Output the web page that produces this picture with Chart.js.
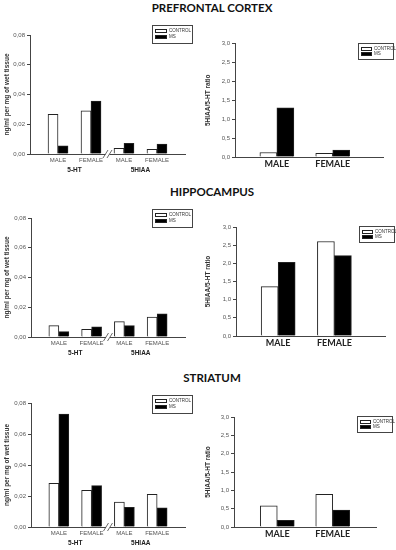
<!DOCTYPE html>
<html>
<head>
<meta charset="utf-8">
<script src="https://cdn.jsdelivr.net/npm/chart.js@4/dist/chart.umd.min.js"></script>
<style>
  body { margin: 0; background: #fff; width: 396px; height: 550px; position: relative; overflow: hidden; }
  canvas { position: absolute; }
  .title { position: absolute; left: 112px; width: 200px; text-align: center; font-family: Lato, "Open Sans", sans-serif; font-weight: bold; font-size: 11.5px; color: #111; }
</style>
</head>
<body>
<div class="title" style="top:1px">PREFRONTAL CORTEX</div>
<div class="title" style="top:185px">HIPPOCAMPUS</div>
<div class="title" style="top:371px">STRIATUM</div>
<canvas id="pfc_ng"></canvas>
<canvas id="pfc_ratio"></canvas>
<canvas id="hip_ng"></canvas>
<canvas id="hip_ratio"></canvas>
<canvas id="str_ng"></canvas>
<canvas id="str_ratio"></canvas>
<script>
// data
const sexes = ['MALE', 'FEMALE'];
const groups = ['5-HT', '5HIAA'];
const seriesNames = ['CONTROL', 'MS'];
const ngMax = 0.08, ngStep = 0.02;
const ratioMax = 3.0, ratioStep = 0.5;
const ngTitle = 'ng/ml per mg of wet tissue';
const ratioTitle = '5HIAA/5-HT ratio';

// [5-HT male, 5-HT female, 5HIAA male, 5HIAA female]
const pfcNgControl = [0.0267, 0.0291, 0.0038, 0.0032];
const pfcNgMS      = [0.0055, 0.0355, 0.0072, 0.0067];
const hipNgControl = [0.0076, 0.0052, 0.0103, 0.0134];
const hipNgMS      = [0.0036, 0.0069, 0.0076, 0.0155];
const strNgControl = [0.0282, 0.0237, 0.0161, 0.0211];
const strNgMS      = [0.0729, 0.0267, 0.0127, 0.0123];
// [male, female]
const pfcRatioControl = [0.12, 0.10];
const pfcRatioMS      = [1.30, 0.185];
const hipRatioControl = [1.36, 2.60];
const hipRatioMS      = [2.03, 2.21];
const strRatioControl = [0.58, 0.89];
const strRatioMS      = [0.18, 0.46];

const ngLabels = groups.flatMap(() => sexes);

var axisColor = '#444';
var tickFont = { family: 'Liberation Sans, Arial, sans-serif', size: 6 };

function comma(v, digits) { return v.toFixed(digits).replace('.', ','); }

// legend box drawn inside the canvas
const boxLegend = {
  id: 'boxLegend',
  afterDraw(chart, args, o) {
    const ctx = chart.ctx;
    ctx.save();
    ctx.strokeStyle = '#444';
    ctx.lineWidth = 1;
    ctx.strokeRect(o.x + 0.5, o.y + 0.5, o.w, o.h);
    chart.data.datasets.forEach((ds, i) => {
      const sy = o.y + 4 + i * o.gap;
      ctx.fillStyle = ds.backgroundColor;
      ctx.fillRect(o.x + 3.5, sy + 0.5, o.sw, 3);
      ctx.strokeStyle = '#222';
      ctx.strokeRect(o.x + 3.5, sy + 0.5, o.sw, 3);
      ctx.fillStyle = '#333';
      ctx.font = '4.5px Liberation Sans, Arial, sans-serif';
      ctx.textBaseline = 'middle';
      ctx.fillText(ds.label, o.x + o.sw + 6, sy + 2);
    });
    ctx.restore();
  }
};

// group names under the sex labels and the // break on the x axis
const groupAxis = {
  id: 'groupAxis',
  afterDraw(chart, args, o) {
    if (!o.groups) return;
    const ctx = chart.ctx, x = chart.scales.x, a = chart.chartArea;
    ctx.save();
    ctx.fillStyle = '#222';
    ctx.font = 'bold 6.5px Liberation Sans, Arial, sans-serif';
    ctx.textAlign = 'center';
    ctx.textBaseline = 'middle';
    o.groups.forEach((g, i) => {
      ctx.fillText(g, x.getPixelForValue(i * 2 + 0.5), a.bottom + 16);
    });
    const bx = x.getPixelForValue(1.5);
    ctx.fillStyle = '#fff';
    ctx.fillRect(bx - 2, a.bottom - 2, 4, 4);
    ctx.strokeStyle = axisColor;
    ctx.lineWidth = 0.8;
    [-2, 2].forEach(d => {
      ctx.beginPath();
      ctx.moveTo(bx + d - 2.5, a.bottom + 4);
      ctx.lineTo(bx + d + 2.5, a.bottom - 4);
      ctx.stroke();
    });
    ctx.restore();
  }
};

function makeChart(id, box, area, labels, control, ms, kind, xr, legend) {
  const cv = document.getElementById(id);
  cv.width = box.w; cv.height = box.h;
  cv.style.left = box.x + 'px'; cv.style.top = box.y + 'px';
  const isNg = kind === 'ng';
  const thick = isNg ? 10 : 17;
  const mk = (name, vals, fill) => ({
    label: name,
    data: vals.map((v, i) => ({ x: i, y: v })),
    backgroundColor: fill,
    borderColor: '#222',
    borderWidth: 1,
    barThickness: thick
  });
  return new Chart(cv, {
    type: 'bar',
    data: { datasets: [mk(seriesNames[0], control, '#ffffff'), mk(seriesNames[1], ms, '#000000')] },
    plugins: [boxLegend, groupAxis],
    options: {
      responsive: false,
      animation: false,
      devicePixelRatio: 1,
      layout: { padding: { left: 0, top: area.t - box.y, right: box.x + box.w - area.r, bottom: 0 } },
      plugins: {
        legend: { display: false },
        tooltip: { enabled: false },
        boxLegend: { x: legend.x - box.x, y: legend.y - box.y, w: legend.w, h: legend.h, sw: legend.sw, gap: legend.gap },
        groupAxis: { groups: isNg ? groups : null }
      },
      scales: {
        x: {
          type: 'linear',
          offset: false,
          min: xr[0], max: xr[1],
          afterBuildTicks: s => { s.ticks = labels.map((l, i) => ({ value: i })); },
          afterFit: s => { s.height = box.y + box.h - area.b; },
          ticks: {
            callback: v => labels[v],
            color: isNg ? '#555' : '#222',
            font: isNg ? tickFont : { family: 'Lato, sans-serif', size: 9, weight: 'bold' },
            padding: isNg ? 3 : 2,
            maxRotation: 0, autoSkip: false
          },
          grid: { display: false, drawTicks: false, offset: false },
          border: { display: true, color: axisColor, width: 1 }
        },
        y: {
          min: 0,
          max: isNg ? ngMax : ratioMax,
          afterFit: s => { s.width = area.l - box.x; },
          ticks: {
            stepSize: isNg ? ngStep : ratioStep,
            callback: v => comma(v, isNg ? 2 : 1),
            color: '#555',
            font: tickFont,
            padding: 2
          },
          grid: { drawOnChartArea: false, drawTicks: true, tickLength: 3, color: axisColor },
          border: { display: true, color: axisColor, width: 1 },
          title: {
            display: true,
            text: isNg ? ngTitle : ratioTitle,
            color: '#333',
            font: { family: 'Liberation Sans, Arial, sans-serif', size: isNg ? 6.5 : 6.5, weight: 'bold' },
            padding: { top: isNg ? 3 : 4, bottom: 0 }
          }
        }
      }
    }
  });
}

var ngLegend = { w: 40, h: 18, sw: 11, gap: 6 };
var ratioLegend = { w: 35, h: 16, sw: 10, gap: 5 };

makeChart('pfc_ng', { x: 0, y: 20, w: 200, h: 160 }, { l: 30, t: 35, r: 185, b: 154 },
  ngLabels, pfcNgControl, pfcNgMS, 'ng', [-0.85, 3.85], Object.assign({ x: 152, y: 25 }, ngLegend));
makeChart('pfc_ratio', { x: 200, y: 20, w: 196, h: 160 }, { l: 235, t: 43.5, r: 383, b: 157 },
  sexes, pfcRatioControl, pfcRatioMS, 'ratio', [-0.75, 1.9], Object.assign({ x: 358, y: 43 }, ratioLegend));
makeChart('hip_ng', { x: 0, y: 200, w: 200, h: 165 }, { l: 31, t: 218, r: 185, b: 337 },
  ngLabels, hipNgControl, hipNgMS, 'ng', [-0.85, 3.85], Object.assign({ x: 152, y: 209 }, ngLegend));
makeChart('hip_ratio', { x: 200, y: 200, w: 196, h: 165 }, { l: 236, t: 227, r: 385, b: 336 },
  sexes, hipRatioControl, hipRatioMS, 'ratio', [-0.75, 1.9], Object.assign({ x: 359, y: 226 }, ratioLegend));
makeChart('str_ng', { x: 0, y: 382, w: 200, h: 168 }, { l: 31, t: 403, r: 185, b: 527 },
  ngLabels, strNgControl, strNgMS, 'ng', [-0.85, 3.85], Object.assign({ x: 152, y: 395 }, ngLegend));
makeChart('str_ratio', { x: 200, y: 382, w: 196, h: 168 }, { l: 234, t: 417, r: 376, b: 527 },
  sexes, strRatioControl, strRatioMS, 'ratio', [-0.78, 1.78], Object.assign({ x: 357, y: 416 }, ratioLegend));
</script>
</body>
</html>
